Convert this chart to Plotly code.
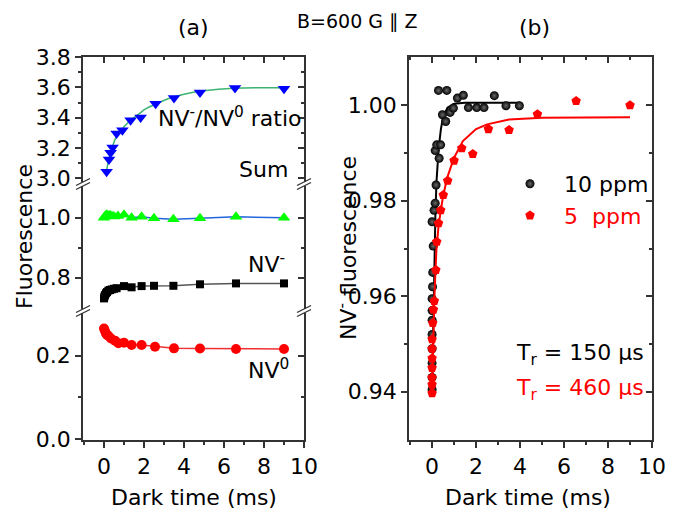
import plotly.graph_objects as go

# ---------------- data: panel (a) ----------------
t_ratio = [0.13, 0.25, 0.33, 0.43, 0.63, 0.92, 1.33, 1.83, 2.58, 3.5, 4.8, 6.55, 9.0]
ratio = [3.043, 3.125, 3.168, 3.204, 3.296, 3.318, 3.384, 3.401, 3.493, 3.53, 3.566, 3.596, 3.592]
t_ratio_fit = [0.1, 0.2, 0.3, 0.45, 0.6, 0.8, 1.0, 1.3, 1.7, 2.1, 2.6, 3.2, 4.0, 5.0, 6.5, 9.0]
ratio_fit = [3.03, 3.10, 3.16, 3.22, 3.27, 3.31, 3.34, 3.38, 3.42, 3.46, 3.49, 3.525, 3.555, 3.578, 3.595, 3.598]

t_sum = [0, 0.05, 0.1, 0.15, 0.2, 0.3, 0.4, 0.5, 0.7, 1.0, 1.38, 1.88, 2.5, 3.47, 4.8, 6.6, 9.0]
sum_vals = [1.0, 1.005, 1.008, 1.01, 1.006, 1.008, 1.005, 1.004, 1.006, 1.01, 1.0, 1.003, 0.998, 0.995, 0.998, 1.003, 1.0]

t_nvm = [0, 0.02, 0.05, 0.1, 0.15, 0.22, 0.3, 0.38, 0.5, 0.63, 1.0, 1.38, 1.88, 2.5, 3.47, 4.8, 6.6, 9.0]
nvm = [0.731, 0.737, 0.742, 0.748, 0.752, 0.757, 0.759, 0.761, 0.763, 0.765, 0.772, 0.768, 0.772, 0.773, 0.773, 0.778, 0.781, 0.781]

t_nv0 = [0, 0.05, 0.1, 0.15, 0.22, 0.35, 0.55, 0.72, 1.0, 1.38, 1.88, 2.55, 3.5, 4.8, 6.6, 9.0]
nv0 = [0.265, 0.259, 0.253, 0.25, 0.247, 0.241, 0.236, 0.230, 0.231, 0.2255, 0.2255, 0.2215, 0.2175, 0.217, 0.216, 0.216]

# ---------------- data: panel (b) ----------------
t_10 = [0, 0, 0, 0, 0, 0, 0, 0, 0, 0.02, 0.03, 0.05, 0.09, 0.14, 0.18, 0.14, 0.21, 0.32, 0.39,
        0.47, 0.62, 0.29, 0.67, 0.82, 0.97, 1.15, 1.42, 1.65, 2.03, 2.36, 2.83, 3.36, 3.97]
f_10 = [0.9405, 0.943, 0.946, 0.949, 0.952, 0.955, 0.957, 0.9595, 0.9756, 0.962, 0.965, 0.9705, 0.978,
        0.9795, 0.9833, 0.9905, 0.9917, 0.9889, 0.9917, 0.998, 0.9966, 1.0031, 1.0031, 0.9985, 0.9994,
        1.0015, 1.0021, 0.9995, 0.9995, 0.9995, 1.002, 0.9999, 0.9999]
t_10_fit = [0, 0.05, 0.1, 0.15, 0.2, 0.3, 0.4, 0.5, 0.7, 1.0, 1.5, 2.0, 3.0, 4.0]
f_10_fit = [0.940, 0.955, 0.968, 0.977, 0.984, 0.991, 0.995, 0.9975, 0.9995, 1.0003, 1.0005, 1.0005, 1.0005, 1.0005]

t_5 = [0, 0, 0, 0, 0, 0, 0, 0.03, 0.06, 0.1, 0.17, 0.21, 0.29, 0.39, 0.51, 0.71, 1.0, 1.35, 1.85,
       2.56, 3.5, 4.79, 6.55, 9.0]
f_5 = [0.9397, 0.9415, 0.943, 0.945, 0.947, 0.949, 0.951, 0.9544, 0.9572, 0.959, 0.9655, 0.9714,
       0.9753, 0.978, 0.9812, 0.9842, 0.9884, 0.991, 0.9898, 0.995, 0.9948, 0.9981, 1.0009, 1.0]
t_5_fit = [0, 0.05, 0.1, 0.15, 0.2, 0.3, 0.4, 0.5, 0.7, 1.0, 1.4, 2.0, 2.5, 3.5, 5.0, 7.0, 9.0]
f_5_fit = [0.940, 0.952, 0.959, 0.965, 0.970, 0.975, 0.978, 0.981, 0.985, 0.989, 0.9925, 0.995, 0.996,
           0.997, 0.9974, 0.9975, 0.9975]

x_tickvals = [0, 2, 4, 6, 8, 10]
x_minor = [-1, 1, 3, 5, 7, 9]
ya_bot_ticks = [0.0, 0.2]
ya_bot_labels = ["0.0", "0.2"]
ya_mid_ticks = [0.8, 1.0]
ya_mid_labels = ["0.8", "1.0"]
ya_top_ticks = [3.0, 3.2, 3.4, 3.6, 3.8]
ya_top_labels = ["3.0", "3.2", "3.4", "3.6", "3.8"]
yb_ticks = [0.94, 0.96, 0.98, 1.00]
yb_labels = ["0.94", "0.96", "0.98", "1.00"]

# ---------------- geometry ----------------
# the page body has an 8px margin, so the figure is drawn 8px right / down
OFF = 8
W, H = 685, 506
L, T = 75, 49
PW, PH = 569, 383
R = W - L - PW
B = H - T - PH


def px(x):  # reference-pixel x -> paper
    return (x - OFF - L) / PW


def py(y):  # reference-pixel y -> paper
    return (H - B - (y - OFF)) / PH


FONT = "DejaVu Sans"
AX = "#333333"
FS = 22

xa_dom = [0, px(304)]
xb_dom = [px(409), px(652)]
brk_lo, brk_hi = py(311), py(184)

x_range = [-1.05, 10]
yr_bot = [-0.0017, 0.3069]
yr_mid = [0.689, 1.1123]
yr_top = [2.9625, 3.801]
yr_b = [0.9299, 1.0101]

fig = go.Figure()

# panel (a)
fig.add_trace(go.Scatter(x=t_nv0, y=nv0, mode="lines+markers", xaxis="x", yaxis="y",
                         line=dict(color="#f03030", width=1.5),
                         marker=dict(symbol="circle", size=10, color="#ff0000"), showlegend=False))
fig.add_trace(go.Scatter(x=t_nvm, y=nvm, mode="lines+markers", xaxis="x", yaxis="y2",
                         line=dict(color="#555555", width=1.5),
                         marker=dict(symbol="square", size=8, color="#000000"), showlegend=False))
fig.add_trace(go.Scatter(x=t_sum, y=sum_vals, mode="lines+markers", xaxis="x", yaxis="y2",
                         line=dict(color="#2266dd", width=1.5),
                         marker=dict(symbol="triangle-up", size=11, color="#00ff00"), showlegend=False))
fig.add_trace(go.Scatter(x=t_ratio_fit, y=ratio_fit, mode="lines", xaxis="x", yaxis="y3",
                         line=dict(color="#3cb371", width=1.5, shape="spline"), showlegend=False))
fig.add_trace(go.Scatter(x=t_ratio, y=ratio, mode="markers", xaxis="x", yaxis="y3",
                         marker=dict(symbol="triangle-down", size=11, color="#0000ff"), showlegend=False))

# panel (b)
fig.add_trace(go.Scatter(x=t_10_fit, y=f_10_fit, mode="lines", xaxis="x2", yaxis="y4",
                         line=dict(color="black", width=2), showlegend=False))
fig.add_trace(go.Scatter(x=t_10, y=f_10, mode="markers", xaxis="x2", yaxis="y4",
                         name="\u00a0\u00a010 ppm", legendgroup="a",
                         marker=dict(symbol="circle", size=9, color="black",
                                     gradient=dict(type="radial", color="#6a6a6a"))))
fig.add_trace(go.Scatter(x=t_5_fit, y=f_5_fit, mode="lines", xaxis="x2", yaxis="y4",
                         line=dict(color="#ff0000", width=2), showlegend=False))
fig.add_trace(go.Scatter(x=t_5, y=f_5, mode="markers", xaxis="x2", yaxis="y4",
                         name="<span style='color:#ff0000'>\u00a0\u00a05\u00a0\u00a0ppm</span>", legendgroup="b",
                         marker=dict(symbol="pentagon", size=10, color="#ff0000")))

# dummy traces for mirrored (inside) axes
for xa, ya in [("x3", "y3"), ("x", "y5"), ("x", "y6"), ("x", "y7"), ("x4", "y4"), ("x2", "y8")]:
    fig.add_trace(go.Scatter(x=[None], y=[None], xaxis=xa, yaxis=ya, mode="markers",
                             showlegend=False, hoverinfo="skip"))

base = dict(showgrid=False, zeroline=False, showline=True, linecolor=AX, linewidth=1.5,
            tickcolor=AX, tickwidth=1.5, ticklen=6,
            tickfont=dict(family=FONT, size=FS, color="black"))


def ax(ticks, **kw):
    d = dict(base)
    d["ticks"] = ticks
    mt = kw.pop("minorvals", None)
    if mt is not None:
        d["minor"] = dict(tickmode="array", tickvals=mt, ticks=ticks, ticklen=3.5,
                          tickwidth=1.5, tickcolor=AX)
    d.update(kw)
    return d


fig.update_layout(
    width=W, height=H,
    margin=dict(l=L, r=R, t=T, b=B, pad=0),
    paper_bgcolor="white", plot_bgcolor="rgba(0,0,0,0)",
    font=dict(family=FONT, size=FS, color="black"),
    xaxis=ax("outside", domain=xa_dom, anchor="y", range=x_range, tickmode="array",
             tickvals=x_tickvals, minorvals=x_minor),
    yaxis=ax("outside", domain=[0, brk_lo], anchor="x", range=yr_bot, tickmode="array",
             tickvals=ya_bot_ticks, ticktext=ya_bot_labels, minorvals=[0.1]),
    yaxis2=ax("outside", domain=[brk_lo, brk_hi], anchor="x", range=yr_mid, tickmode="array",
              tickvals=ya_mid_ticks, ticktext=ya_mid_labels, minorvals=[0.9]),
    yaxis3=ax("outside", domain=[brk_hi, 1], anchor="x", range=yr_top, tickmode="array",
              tickvals=ya_top_ticks, ticktext=ya_top_labels, minorvals=[3.1, 3.3, 3.5, 3.7]),
    xaxis2=ax("outside", domain=xb_dom, anchor="y4", range=x_range, tickmode="array",
              tickvals=x_tickvals, minorvals=x_minor),
    yaxis4=ax("outside", domain=[0, 1], anchor="x2", range=yr_b, tickmode="array",
              tickvals=yb_ticks, ticktext=yb_labels, minorvals=[0.95, 0.97, 0.99]),
    # mirrored axes (ticks inside, no labels)
    xaxis3=ax("inside", overlaying="x", side="top", anchor="y3", range=x_range, tickmode="array",
              tickvals=x_tickvals, minorvals=x_minor, showticklabels=False),
    yaxis5=ax("inside", overlaying="y", side="right", anchor="x", range=yr_bot, tickmode="array",
              tickvals=ya_bot_ticks, minorvals=[0.1], showticklabels=False),
    yaxis6=ax("inside", overlaying="y2", side="right", anchor="x", range=yr_mid, tickmode="array",
              tickvals=ya_mid_ticks, minorvals=[0.9], showticklabels=False),
    yaxis7=ax("inside", overlaying="y3", side="right", anchor="x", range=yr_top, tickmode="array",
              tickvals=ya_top_ticks, minorvals=[3.1, 3.3, 3.5, 3.7], showticklabels=False),
    xaxis4=ax("inside", overlaying="x2", side="top", anchor="y4", range=x_range, tickmode="array",
              tickvals=x_tickvals, minorvals=x_minor, showticklabels=False),
    yaxis8=ax("inside", overlaying="y4", side="right", anchor="x2", range=yr_b, tickmode="array",
              tickvals=yb_ticks, minorvals=[0.95, 0.97, 0.99], showticklabels=False),
    legend=dict(x=px(510), y=py(163), xanchor="left", yanchor="top",
                bgcolor="rgba(0,0,0,0)", borderwidth=0, traceorder="grouped", tracegroupgap=0,
                font=dict(family=FONT, size=FS, color="black")),
    showlegend=True,
)

ann = []


def text(s, x, y, xanchor="center", yanchor="middle", size=FS, color="black", angle=0):
    ann.append(dict(text=s, x=px(x), y=py(y), xref="paper", yref="paper", showarrow=False,
                    xanchor=xanchor, yanchor=yanchor, textangle=angle,
                    font=dict(family=FONT, size=size, color=color)))


text("(a)", 193, 28)
text("(b)", 534, 28)
text("B=600 G \u2225 Z", 357, 8, yanchor="top", size=19)
text("Dark time (ms)", 194, 497)
text("Dark time (ms)", 528, 497)
text("Fluorescence", 24, 237, angle=-90)
text("NV<sup>-</sup> fluorescence", 347, 248, angle=-90)
text("NV<sup>-</sup>/NV<sup>0</sup> ratio", 156, 117, xanchor="left")
text("Sum", 237, 169, xanchor="left")
text("NV<sup>-</sup>", 246, 263, xanchor="left")
text("NV<sup>0</sup>", 246, 369, xanchor="left")
text("T<sub>r</sub> = 150 \u03bcs", 514, 354, xanchor="left")
text("T<sub>r</sub> = 460 \u03bcs", 514, 389, xanchor="left", color="#ff0000")
fig.update_layout(annotations=ann)

# axis break marks
shapes = []
for xa in [xa_dom[0], xa_dom[1]]:
    for ya in [brk_lo, brk_hi]:
        common = dict(xref="paper", yref="paper", xsizemode="pixel", ysizemode="pixel",
                      xanchor=xa, yanchor=ya, layer="above")
        shapes.append(dict(type="rect", x0=-2, x1=2, y0=-2, y1=2, fillcolor="white",
                           line=dict(width=0), **common))
        shapes.append(dict(type="line", x0=-7, y0=-1.5, x1=7, y1=5.5,
                           line=dict(color=AX, width=1.3), **common))
        shapes.append(dict(type="line", x0=-7, y0=-5.5, x1=7, y1=1.5,
                           line=dict(color=AX, width=1.3), **common))
fig.update_layout(shapes=shapes)

fig.write_html("out.html")
